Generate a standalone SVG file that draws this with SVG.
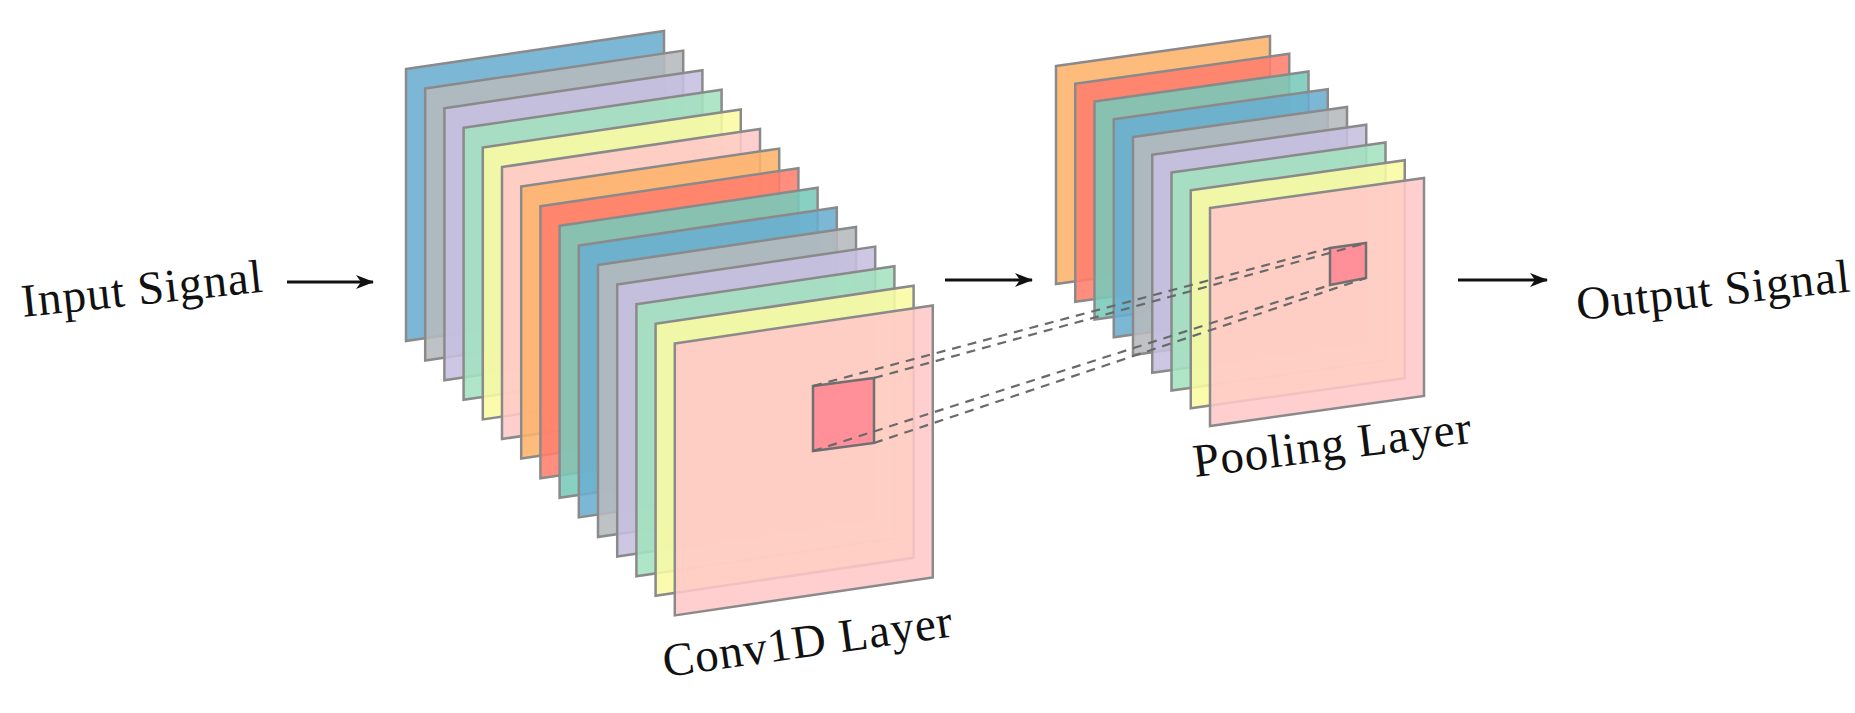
<svg xmlns="http://www.w3.org/2000/svg" xmlns:xlink="http://www.w3.org/1999/xlink" width="1855" height="713" viewBox="0 0 1855 713">
<style>
.p{stroke:#8a8a8a;stroke-width:2.5;fill-opacity:0.88}
.b{fill:#6aaed0}.g{fill:#b6babd}.l{fill:#c6bfe0}.gr{fill:#a3e3bf}.y{fill:#fafaa3}.pk{fill:#ffc8c8}.o{fill:#fdb36a}.r{fill:#ff7e6c}.t{fill:#78c9b9}
.sq{fill:#ff8f98;stroke:#707070;stroke-width:2.5}
.d{stroke:#6a6a6a;stroke-width:2.2;stroke-dasharray:9 7;fill:none}
.a{stroke:#111;stroke-width:3;fill:none}
text{font-family:"Liberation Serif","Times New Roman",serif;font-size:47px;letter-spacing:1px;fill:#111}
</style>
<defs>
<polygon id="cp" points="0,0 258,-38 258,234 0,272"/>
<polygon id="pp" points="0,0 214,-30 214,188 0,218"/>
<marker id="ah" viewBox="0 0 18 14" refX="17" refY="7" markerWidth="18" markerHeight="14" markerUnits="userSpaceOnUse" orient="auto"><path d="M0,0 L18,7 L0,14 L5,7 Z" fill="#111"/></marker>
</defs>
<g id="input"><text transform="translate(23,317) rotate(-6)">Input Signal</text></g>
<g id="conv">
<use xlink:href="#cp" class="p b" x="406" y="69"/>
<use xlink:href="#cp" class="p g" x="425.2" y="88.6"/>
<use xlink:href="#cp" class="p l" x="444.4" y="108.2"/>
<use xlink:href="#cp" class="p gr" x="463.6" y="127.8"/>
<use xlink:href="#cp" class="p y" x="482.8" y="147.4"/>
<use xlink:href="#cp" class="p pk" x="502" y="167"/>
<use xlink:href="#cp" class="p o" x="521.2" y="186.6"/>
<use xlink:href="#cp" class="p r" x="540.4" y="206.2"/>
<use xlink:href="#cp" class="p t" x="559.6" y="225.8"/>
<use xlink:href="#cp" class="p b" x="578.8" y="245.4"/>
<use xlink:href="#cp" class="p g" x="598" y="265"/>
<use xlink:href="#cp" class="p l" x="617.2" y="284.6"/>
<use xlink:href="#cp" class="p gr" x="636.4" y="304.2"/>
<use xlink:href="#cp" class="p y" x="655.6" y="323.8"/>
<use xlink:href="#cp" class="p pk" x="674.8" y="343.4"/>
<polygon class="sq" points="813,386 874,378 874,443 813,451"/>
<text transform="translate(665,677) rotate(-8)">Conv1D Layer</text>
</g>
<g id="pool">
<use xlink:href="#pp" class="p o" x="1056" y="66"/>
<use xlink:href="#pp" class="p r" x="1075.25" y="83.75"/>
<use xlink:href="#pp" class="p t" x="1094.5" y="101.5"/>
<use xlink:href="#pp" class="p b" x="1113.75" y="119.25"/>
<use xlink:href="#pp" class="p g" x="1133" y="137"/>
<use xlink:href="#pp" class="p l" x="1152.25" y="154.75"/>
<use xlink:href="#pp" class="p gr" x="1171.5" y="172.5"/>
<use xlink:href="#pp" class="p y" x="1190.75" y="190.25"/>
<use xlink:href="#pp" class="p pk" x="1210" y="208"/>
<polygon class="sq" points="1330,248 1366,243 1366,278 1330,285"/>
<text transform="translate(1195,477) rotate(-7)">Pooling Layer</text>
</g>
<g id="output"><text transform="translate(1578,320) rotate(-6)">Output Signal</text></g>
<g id="connectors">
<line class="a" x1="287" y1="282" x2="373" y2="282" marker-end="url(#ah)"/>
<line class="a" x1="945" y1="280" x2="1032" y2="280" marker-end="url(#ah)"/>
<line class="a" x1="1458" y1="280" x2="1547" y2="280" marker-end="url(#ah)"/>
<line class="d" x1="813" y1="386" x2="1330" y2="248"/>
<line class="d" x1="874" y1="378" x2="1366" y2="243"/>
<line class="d" x1="813" y1="451" x2="1330" y2="285"/>
<line class="d" x1="874" y1="443" x2="1366" y2="278"/>
</g>
</svg>
